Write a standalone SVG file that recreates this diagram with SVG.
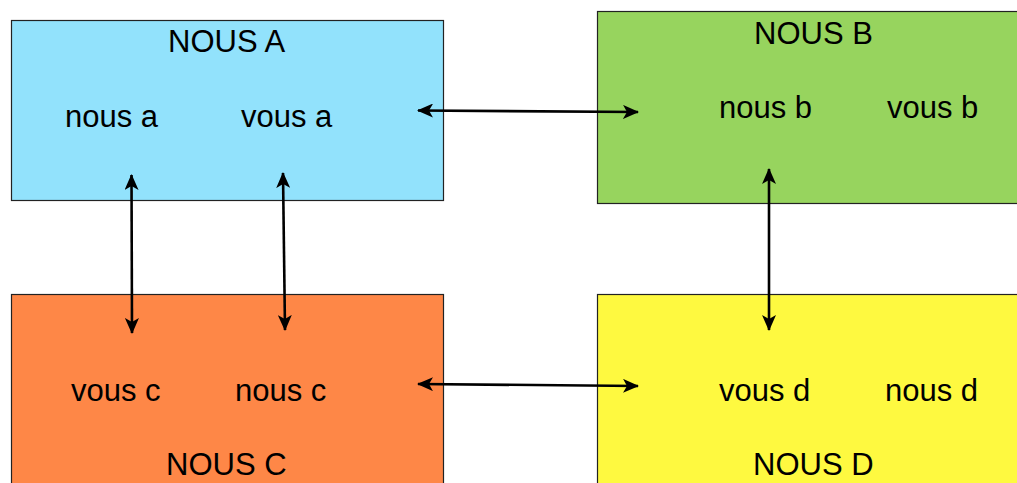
<svg xmlns="http://www.w3.org/2000/svg" width="1017" height="483" viewBox="0 0 1017 483">
<style>
.box{stroke:#222;stroke-width:1.2}
.t{font-family:"Liberation Sans",Arial,sans-serif;font-size:31px;fill:#000}
.c{stroke:#000;stroke-width:2.6;fill:none;marker-start:url(#ah);marker-end:url(#ah)}
</style>
<defs>
<marker id="ah" markerUnits="userSpaceOnUse" viewBox="0 0 16 14" refX="15" refY="7" markerWidth="16" markerHeight="14" orient="auto-start-reverse">
<path d="M0,0 L16,7 L0,14 L4,7 Z" fill="#000"/>
</marker>
</defs>
<rect width="1017" height="483" fill="#fff"/>
<g id="nodeA">
<rect class="box" x="11.5" y="20.5" width="432" height="180" fill="#92E2FC"/>
<text class="t" x="168" y="52">NOUS A</text>
<text class="t" x="65" y="127">nous a</text>
<text class="t" x="241" y="127">vous a</text>
</g>
<g id="nodeB">
<rect class="box" x="597.5" y="11.5" width="425" height="192" fill="#97D45E"/>
<text class="t" x="754" y="44">NOUS B</text>
<text class="t" x="719" y="118">nous b</text>
<text class="t" x="887" y="118">vous b</text>
</g>
<g id="nodeC">
<rect class="box" x="11.5" y="294.5" width="432" height="200" fill="#FE8747"/>
<text class="t" x="71" y="401">vous c</text>
<text class="t" x="235" y="401">nous c</text>
<text class="t" x="166" y="475">NOUS C</text>
</g>
<g id="nodeD">
<rect class="box" x="597.5" y="294.5" width="425" height="200" fill="#FEF940"/>
<text class="t" x="719" y="401">vous d</text>
<text class="t" x="885" y="401">nous d</text>
<text class="t" x="753" y="475">NOUS D</text>
</g>
<g id="connectors">
<path class="c" d="M418,110.5 L638,112"/>
<path class="c" d="M131.5,175 L132,333"/>
<path class="c" d="M283,173 L285,330"/>
<path class="c" d="M769,169 L769,330"/>
<path class="c" d="M418,384 L638,386"/>
</g>
</svg>
